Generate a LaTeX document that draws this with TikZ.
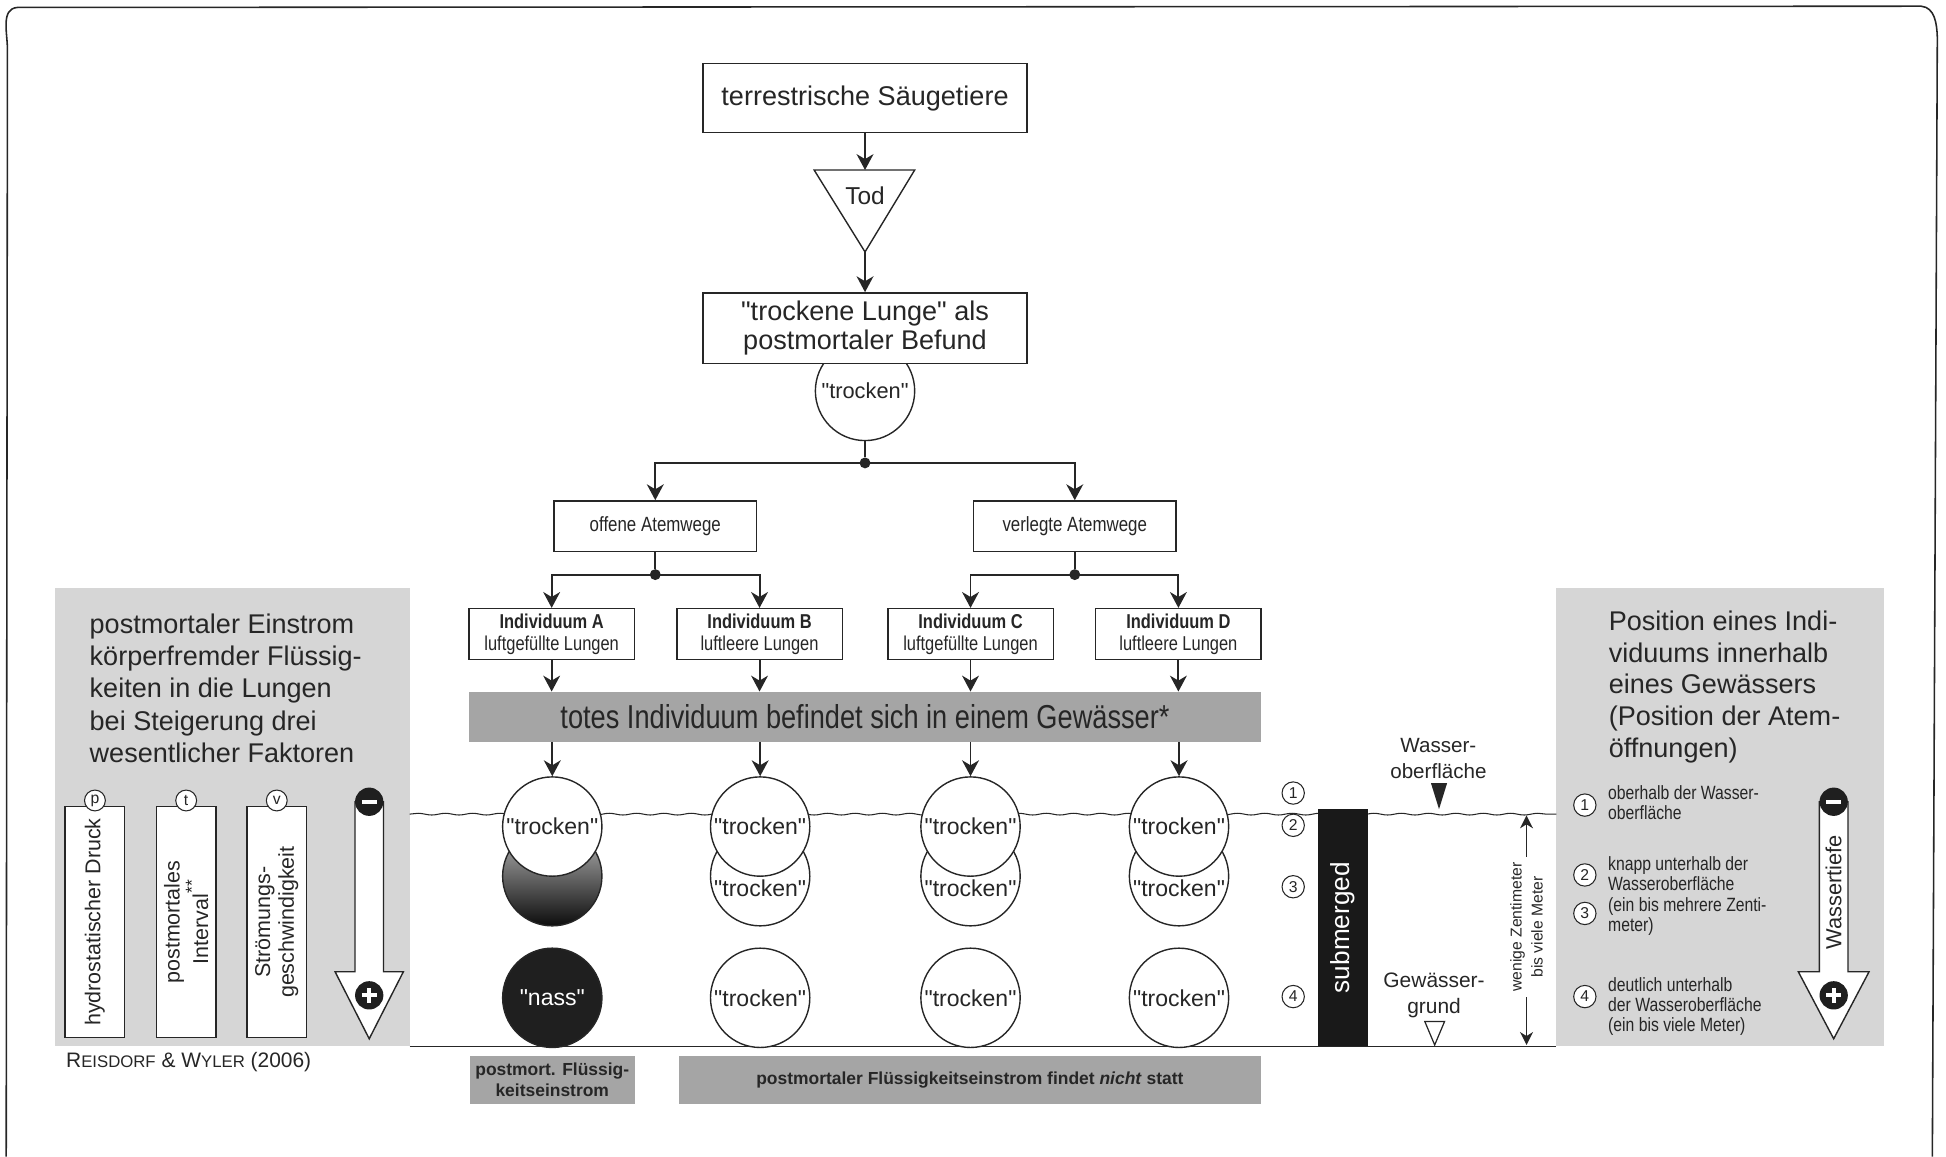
\documentclass[tikz,border=0pt]{standalone}
\usepackage{fontspec}
\setmainfont{Liberation Sans}
\newfontfamily\narrowfont[FakeStretch=0.82]{Liberation Sans}
\usepackage{tikz}
\usetikzlibrary{positioning,arrows.meta,decorations.pathmorphing}

\definecolor{ink}{RGB}{38,38,38}
\definecolor{panelgray}{RGB}{214,214,214}
\definecolor{bargray}{RGB}{165,165,165}
\newcommand{\fakesc}[1]{{\fontsize{9.6}{12}\selectfont #1}}
\newcommand{\qt}[1]{\textquotedbl #1\textquotedbl}

\begin{document}
\begin{tikzpicture}[
  x=0.025cm, y=-0.025cm, color=ink,
  font=\fontsize{15.5}{16.5}\selectfont,
  flow/.style={draw=ink, line width=0.8pt, fill=white, align=center, inner sep=2pt},
  way/.style={flow, minimum width=4.08cm, minimum height=1.02cm,
    font=\narrowfont\fontsize{11.8}{13}\selectfont},
  ind/.style={flow, minimum width=3.33cm, minimum height=1.03cm,
    font=\narrowfont\fontsize{11.5}{12.5}\selectfont},
  lung/.style={circle, draw=ink, line width=0.8pt, fill=white, minimum size=2cm,
    inner sep=0pt, font=\fontsize{13.2}{15}\selectfont},
  num/.style={circle, draw=ink, line width=0.6pt, fill=white, minimum size=0.45cm,
    inner sep=0pt, font=\fontsize{9}{10}\selectfont},
  factor/.style={flow, rotate=90, minimum width=4.65cm, minimum height=1.2cm,
    font=\fontsize{12.3}{13.5}\selectfont},
  sign/.style={circle, fill=black!88, minimum size=0.57cm, inner sep=0pt},
  grayband/.style={fill=bargray, inner sep=2pt, align=center},
  hollow/.style={draw=ink, line width=0.8pt, fill=white},
  arr/.style={-{Stealth[length=3.2mm, width=3.4mm, inset=1mm]}, line width=1.1pt, draw=ink},
  arrsmall/.style={-{Stealth[length=2.6mm, width=2.6mm, inset=0.8mm]}, line width=0.9pt, draw=ink},
  line/.style={line width=1.1pt, draw=ink},
  junction/.style={circle, fill=ink, inner sep=0pt, minimum size=0.22cm}
]
\useasboundingbox (0,0) rectangle (1568,932);
% frame and side panels
\draw[line width=0.9pt] (5,932) -- (6,40) to[out=90,in=185] (14,6) -- (1548,5)
  to[out=-5,in=92] (1561,30) -- (1557,932);
\fill[panelgray] (44,474) rectangle (330,843);
\fill[panelgray] (1254,474) rectangle (1518,843);

% water surface and ground
\draw[line width=0.6pt, decorate, decoration={snake, amplitude=0.5pt, segment length=0.55cm}]
  (330,656) -- (1254,656);
\draw[line width=0.8pt] (330,843) -- (1254,843);

% top chain
\node[lung, font=\fontsize{12.5}{14}\selectfont] (tc) at (697,315) {\qt{trocken}};
\node[flow, minimum width=6.525cm, minimum height=1.4cm] (ts) at (697,79) {terrestrische Säugetiere};
\draw[hollow] (656,137) -- (737,137) -- (697,203) coordinate (todtip) -- cycle;
\coordinate (todtop) at (697,137);
\node[font=\fontsize{14}{16}\selectfont] (tod) at (697,158) {Tod};
\node[flow, minimum width=6.525cm, minimum height=1.425cm] (tl) at (697,264.5) {\qt{trockene Lunge} als\\postmortaler Befund};
\draw[arr] (ts) -- (todtop);
\draw[arr] (todtip) -- (tl);

\node[junction] (j0) at (697,373) {};
\draw[line] (tc) -- (j0);
\node[way] (ow) at (528,424) {offene Atemwege};
\node[way] (vw) at (866,424) {verlegte Atemwege};
\draw[arr] (j0.center) -| (ow);
\draw[arr] (j0.center) -| (vw);

\node[junction] (j1) at (528,463) {};
\node[junction] (j2) at (866,463) {};
\draw[line] (ow) -- (j1);
\draw[line] (vw) -- (j2);
\node[ind] (ia) at (444.5,511) {\textbf{Individuum A}\\luftgefüllte Lungen};
\node[ind] (ib) at (612,511) {\textbf{Individuum B}\\luftleere Lungen};
\node[ind] (ic) at (782,511) {\textbf{Individuum C}\\luftgefüllte Lungen};
\node[ind] (id) at (949.5,511) {\textbf{Individuum D}\\luftleere Lungen};
\draw[arr] (j1.center) -| (ia);
\draw[arr] (j1.center) -| (ib);
\draw[arr] (j2.center) -| (ic);
\draw[arr] (j2.center) -| (id);

\node[grayband, minimum width=15.95cm, minimum height=1.0cm,
  font=\narrowfont\fontsize{19}{21}\selectfont] (bar) at (697,577.5) {totes Individuum befindet sich in einem Gewässer*};
\foreach \n in {ia,ib,ic,id} \draw[arr] (\n) -- (\n |- bar.north);

% lungs in the water
\node[lung, top color=black!25, bottom color=black!95] (a2) at (445,706) {};
\foreach \n/\x in {b2/612.5, c2/782, d2/950} {
  \node[lung] (\n) at (\x,706) {};
  \node[font=\fontsize{13.2}{15}\selectfont] (\n txt) at (\x,716) {\qt{trocken}};
}
\foreach \n/\x in {a1/445, b1/612.5, c1/782, d1/950} {
  \node[lung] (\n) at (\x,666) {\qt{trocken}};
  \draw[arr] (bar.south -| \n) -- (\n);
}
\node[lung, fill=black!88, text=white] (a3) at (445,804) {\qt{nass}};
\node[lung] (b3) at (612.5,804) {\qt{trocken}};
\node[lung] (c3) at (782,804) {\qt{trocken}};
\node[lung] (d3) at (950,804) {\qt{trocken}};

\node[grayband, minimum width=3.32cm, minimum height=0.97cm,
  font=\fontsize{10}{12}\selectfont\bfseries] (lwet) at (445,870) {postmort. Flüssig-\\keitseinstrom};
\node[grayband, minimum width=11.73cm, minimum height=0.97cm,
  font=\fontsize{10}{12}\selectfont\bfseries] (ldry) at (781.5,870) {postmortaler Flüssigkeitseinstrom findet \textit{nicht} statt};

% depth scale
\foreach \n/\y/\k in {n1/639/1, n2/665/2, n3/714.5/3, n4/803/4}
  \node[num] (\n) at (1042,\y) {\k};
\node[fill=black!90, rotate=90, minimum width=4.775cm, minimum height=1.0cm,
  text=white, font=\fontsize{15}{17}\selectfont] (sub) at (1082,747.5) {submerged};
\node[align=center, font=\fontsize{11.8}{15}\selectfont] (ws) at (1159,611) {Wasser-\\oberfläche};
\fill[ink] (1153,631) -- (1166,631) -- (1159.5,652) -- cycle;
\node[align=center, font=\fontsize{12}{14.5}\selectfont] (gg) at (1155.5,802) {Gewässer-\\grund};
\draw[line width=0.7pt, fill=white] (1148,823) -- (1164,823) -- (1156,842) -- cycle;
\node[rotate=90, align=center, inner sep=3pt, font=\fontsize{9}{12}\selectfont] (dp) at (1230,747) {wenige Zentimeter\\bis viele Meter};
\coordinate (wtop) at (1230,657);
\coordinate (wbot) at (1230,842);
\draw[arrsmall] (dp.east) -- (wtop);
\draw[arrsmall] (dp.west) -- (wbot);

% left panel
\node[anchor=west, align=left, inner sep=0pt, font=\fontsize{15.5}{18.5}\selectfont] (lt) at (72,554.5)
  {postmortaler Einstrom\\körperfremder Flüssig-\\keiten in die Lungen\\bei Steigerung drei\\wesentlicher Faktoren};
\node[factor] (v1) at (76.5,743) {hydrostatischer Druck};
\node[factor] (v2) at (150,743) {postmortales\\Interval\raisebox{0.9ex}{\fontsize{10}{10}\selectfont **}};
\node[factor] (v3) at (223,743) {Strömungs-\\geschwindigkeit};
\foreach \n/\x/\k in {cp/76.5/p, ct/150/t, cv/223/v}
  \node[num, minimum size=0.42cm] (\n) at (\x,645) {\k};
\draw[hollow] (286,646) -- (286,783) -- (270,783) -- (297.5,837) -- (325,783) -- (309,783) -- (309,646) -- cycle;
\node[sign] (lminus) at (297.5,646) {};
\node[sign] (lplus) at (297.5,802) {};
\draw[white, line width=2.2pt] ([xshift=-0.15cm]lminus.center) -- ([xshift=0.15cm]lminus.center);
\draw[white, line width=2.2pt] ([xshift=-0.15cm]lplus.center) -- ([xshift=0.15cm]lplus.center);
\draw[white, line width=2.2pt] ([yshift=-0.15cm]lplus.center) -- ([yshift=0.15cm]lplus.center);
\node[anchor=west, inner sep=0pt, font=\fontsize{12}{14}\selectfont] (ref) at (53,856)
  {R\fakesc{EISDORF} \& W\fakesc{YLER} (2006)};

% right panel
\node[anchor=west, align=left, inner sep=0pt, font=\fontsize{15.5}{18.2}\selectfont] (rt) at (1296,553.5)
  {Position eines Indi-\\viduums innerhalb\\eines Gewässers\\(Position der Atem-\\öffnungen)};
\foreach \n/\y/\k in {r1/648.7/1, r2/705/2, r3/736/3, r4/803/4}
  \node[num] (\n) at (1277,\y) {\k};
\node[anchor=west, align=left, inner sep=0pt, font=\narrowfont\fontsize{11}{11.6}\selectfont] (rt1) at (1295.5,647)
  {oberhalb der Wasser-\\oberfläche};
\node[anchor=west, align=left, inner sep=0pt, font=\narrowfont\fontsize{11}{11.6}\selectfont] (rt2) at (1295.5,722)
  {knapp unterhalb der\\Wasseroberfläche\\(ein bis mehrere Zenti-\\meter)};
\node[anchor=west, align=left, inner sep=0pt, font=\narrowfont\fontsize{11}{11.6}\selectfont] (rt4) at (1295.5,811)
  {deutlich unterhalb\\der Wasseroberfläche\\(ein bis viele Meter)};
\draw[hollow] (1466,646) -- (1466,783) -- (1449,783) -- (1477.5,837) -- (1506,783) -- (1489,783) -- (1489,646) -- cycle;
\node[rotate=90, font=\fontsize{12.5}{14}\selectfont] (wt) at (1477.5,719) {Wassertiefe};
\node[sign] (rminus) at (1477.5,646) {};
\node[sign] (rplus) at (1477.5,802) {};
\draw[white, line width=2.2pt] ([xshift=-0.15cm]rminus.center) -- ([xshift=0.15cm]rminus.center);
\draw[white, line width=2.2pt] ([xshift=-0.15cm]rplus.center) -- ([xshift=0.15cm]rplus.center);
\draw[white, line width=2.2pt] ([yshift=-0.15cm]rplus.center) -- ([yshift=0.15cm]rplus.center);
\end{tikzpicture}
\end{document}
